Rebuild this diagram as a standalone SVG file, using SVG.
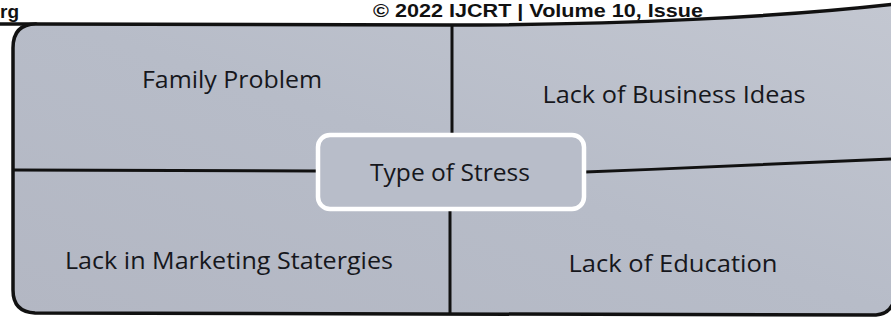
<svg xmlns="http://www.w3.org/2000/svg" width="891" height="320" viewBox="0 0 891 320">
  <defs>
    <linearGradient id="panelFill" x1="0" y1="1" x2="1" y2="0">
      <stop offset="0" stop-color="#b3b7c3"/>
      <stop offset="0.5" stop-color="#b7bcc8"/>
      <stop offset="1" stop-color="#c3c7d1"/>
    </linearGradient>
    <style>
      .label { font-family: "Open Sans", "Liberation Sans", sans-serif; font-size: 24px; fill: #16171c; text-anchor: middle; }
      .head { font-family: "Liberation Sans", Arial, sans-serif; font-weight: bold; fill: #111; }
      .rule { fill: none; stroke: #111; stroke-width: 3.5; stroke-linecap: round; }
      .divider { fill: none; stroke: #111; stroke-width: 3; }
    </style>
  </defs>

  <rect width="891" height="320" fill="#ffffff"/>

  <!-- page header -->
  <g id="page-header">
    <text class="head" x="0" y="18" font-size="19">rg</text>
    <text class="head" x="373" y="17" font-size="18" textLength="330" lengthAdjust="spacingAndGlyphs">© 2022 IJCRT | Volume 10, Issue</text>
    <path class="rule" d="M0,24 L36,24"/>
  </g>

  <!-- outer rounded panel -->
  <g id="panel">
    <path d="M13,48 Q13,24 36,24 L450,25 C620,25 780,17 895,4 L895,298 Q891,314 876,315 L35,313 Q13,312 13,290 Z"
          fill="url(#panelFill)" stroke="#111" stroke-width="3.5" stroke-linejoin="round"/>
  </g>

  <!-- quadrant dividers -->
  <g id="connectors">
    <path class="divider" d="M452,25 L452,134"/>
    <path class="divider" d="M13,170 L317,171"/>
    <path class="divider" d="M585,172 C690,168 800,163 891,159"/>
    <path class="divider" d="M450,210 L450,314"/>
  </g>

  <g id="family-problem">
    <text class="label" x="232" y="88" textLength="180" lengthAdjust="spacingAndGlyphs">Family Problem</text>
  </g>
  <g id="lack-business-ideas">
    <text class="label" x="674" y="103" textLength="263" lengthAdjust="spacingAndGlyphs">Lack of Business Ideas</text>
  </g>
  <g id="lack-marketing">
    <text class="label" x="229" y="269" textLength="328" lengthAdjust="spacingAndGlyphs">Lack in Marketing Statergies</text>
  </g>
  <g id="lack-education">
    <text class="label" x="673" y="272" textLength="209" lengthAdjust="spacingAndGlyphs">Lack of Education</text>
  </g>

  <!-- centre node -->
  <g id="type-of-stress">
    <rect x="318" y="135" width="266" height="74" rx="12" fill="#b8bdc9" stroke="#ffffff" stroke-width="4.5"/>
    <text class="label" x="450" y="181" textLength="160" lengthAdjust="spacingAndGlyphs">Type of Stress</text>
  </g>
</svg>
